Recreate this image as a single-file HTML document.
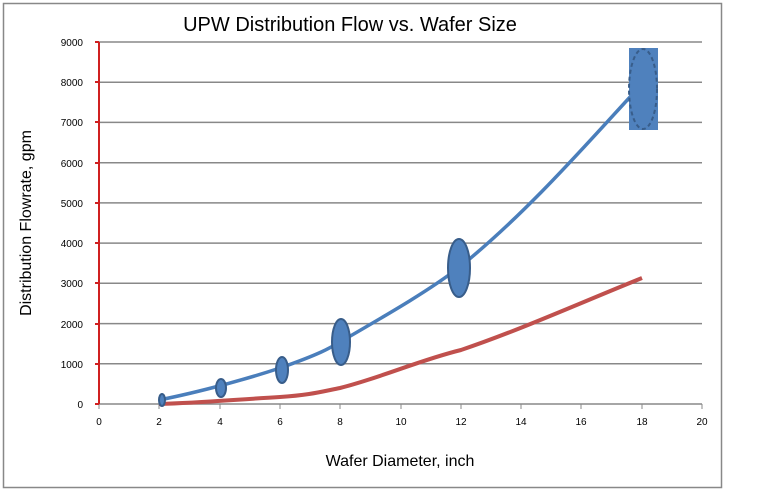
<!DOCTYPE html><html><head><style>body{margin:0;background:#fff}</style></head><body>
<svg width="768" height="491" xmlns="http://www.w3.org/2000/svg" font-family="Liberation Sans, sans-serif">
<rect x="3.5" y="3.5" width="718" height="484" fill="#fff" stroke="#888" stroke-width="1.5"/>
<text x="350" y="31" font-size="20" text-anchor="middle">UPW Distribution Flow vs. Wafer Size</text>
<g stroke="#888" stroke-width="1.5">
<line x1="99" x2="702" y1="42" y2="42"/><line x1="99" x2="702" y1="82.2" y2="82.2"/><line x1="99" x2="702" y1="122.4" y2="122.4"/><line x1="99" x2="702" y1="162.7" y2="162.7"/><line x1="99" x2="702" y1="202.9" y2="202.9"/><line x1="99" x2="702" y1="243.1" y2="243.1"/><line x1="99" x2="702" y1="283.3" y2="283.3"/><line x1="99" x2="702" y1="323.6" y2="323.6"/><line x1="99" x2="702" y1="363.8" y2="363.8"/><line x1="99" x2="702" y1="404" y2="404"/>
<g stroke-width="1"><line x1="99" x2="99" y1="404" y2="409"/><line x1="159" x2="159" y1="404" y2="409"/><line x1="220" x2="220" y1="404" y2="409"/><line x1="280" x2="280" y1="404" y2="409"/><line x1="340" x2="340" y1="404" y2="409"/><line x1="401" x2="401" y1="404" y2="409"/><line x1="461" x2="461" y1="404" y2="409"/><line x1="521" x2="521" y1="404" y2="409"/><line x1="581" x2="581" y1="404" y2="409"/><line x1="642" x2="642" y1="404" y2="409"/><line x1="702" x2="702" y1="404" y2="409"/></g>
</g>
<g stroke="#d02020" stroke-width="2"><line x1="99" x2="99" y1="42" y2="404"/>
<line x1="95" x2="99" y1="42" y2="42"/><line x1="95" x2="99" y1="82" y2="82"/><line x1="95" x2="99" y1="122" y2="122"/><line x1="95" x2="99" y1="163" y2="163"/><line x1="95" x2="99" y1="203" y2="203"/><line x1="95" x2="99" y1="243" y2="243"/><line x1="95" x2="99" y1="283" y2="283"/><line x1="95" x2="99" y1="324" y2="324"/><line x1="95" x2="99" y1="364" y2="364"/><line x1="95" x2="99" y1="404" y2="404"/></g>
<g font-size="10" text-anchor="end"><text x="83" y="46">9000</text><text x="83" y="86">8000</text><text x="83" y="126">7000</text><text x="83" y="167">6000</text><text x="83" y="207">5000</text><text x="83" y="247">4000</text><text x="83" y="287">3000</text><text x="83" y="328">2000</text><text x="83" y="368">1000</text><text x="83" y="408">0</text></g>
<g font-size="10" text-anchor="middle"><text x="99" y="425">0</text><text x="159" y="425">2</text><text x="220" y="425">4</text><text x="280" y="425">6</text><text x="340" y="425">8</text><text x="401" y="425">10</text><text x="461" y="425">12</text><text x="521" y="425">14</text><text x="581" y="425">16</text><text x="642" y="425">18</text><text x="702" y="425">20</text></g>
<text x="400" y="466" font-size="16" text-anchor="middle">Wafer Diameter, inch</text>
<text transform="translate(31,223) rotate(-90)" font-size="16" text-anchor="middle">Distribution Flowrate, gpm</text>
<path d="M159,404 C200,403 230,400 280,397 C310,395 320,392 340,388 C380,378 420,360 461,350 C520,330 580,303 642,278" fill="none" stroke="#c0504d" stroke-width="4"/>
<path d="M159,400 C200,392 250,378 280,368 C320,354 330,348 340,342 C390,313 430,290 461,266 C530,210 590,140 642,84" fill="none" stroke="#4a7ebb" stroke-width="3.5"/>
<g fill="#4f81bd" stroke="#385d8a" stroke-width="2">
<ellipse cx="162" cy="400" rx="3" ry="6"/><ellipse cx="221" cy="388" rx="5" ry="9"/><ellipse cx="282" cy="370" rx="6" ry="13"/><ellipse cx="341" cy="342" rx="9" ry="23"/><ellipse cx="459" cy="268" rx="11" ry="29"/>
<rect x="629" y="48" width="29" height="82" stroke="none"/>
<ellipse cx="643" cy="89" rx="14" ry="40" stroke-dasharray="4,3"/></g>
</svg></body></html>
